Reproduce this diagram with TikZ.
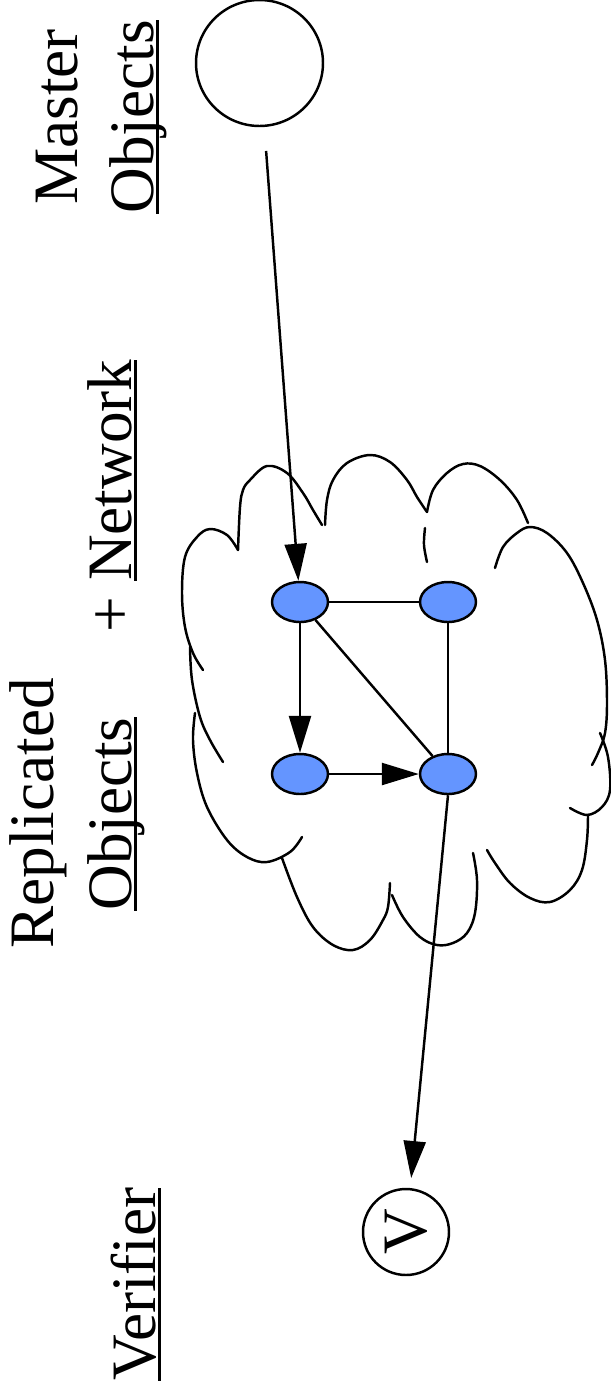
\documentclass[tikz,border=0pt]{standalone}
\usepackage{fontspec}
\setmainfont{Liberation Serif}
\usepackage{tikz}
\usetikzlibrary{arrows.meta,shapes.geometric}
\definecolor{objBlue}{HTML}{6495FF}
\definecolor{inkP}{HTML}{000000}
% underline that sits just under the baseline
\newsavebox{\ulbox}
\newcommand{\ulword}[1]{\sbox{\ulbox}{#1}\rlap{\rule[-3.2pt]{\wd\ulbox}{1.3pt}}\usebox{\ulbox}}
\tikzset{
  bigtext/.style={font=\fontsize{36}{43}\selectfont, inner sep=0pt, rotate=90},
  objnode/.style={ellipse, draw=inkP, fill=objBlue, line width=1.4pt,
                  minimum width=1.12cm, minimum height=0.8cm, inner sep=0pt},
  masternode/.style={ellipse, draw=inkP, line width=1.4pt,
                     minimum width=2.54cm, minimum height=2.52cm, inner sep=0pt},
  vernode/.style={circle, draw=inkP, line width=1.4pt, minimum size=1.72cm,
                  inner sep=0pt, rotate=90, font=\fontsize{36}{36}\selectfont},
  flow/.style={-{Triangle[length=0.74cm, width=0.44cm]}, line width=1.4pt, color=inkP},
  link/.style={line width=1.4pt, color=inkP},
  cloudarc/.style={line width=1.4pt, line cap=round, color=inkP},
}

\begin{document}
\begin{tikzpicture}[x=0.02cm, y=-0.02cm]
  \useasboundingbox (0,0) rectangle (611,1394);
  % labels
  \node[bigtext, anchor=base] (mastlbl) at (77,117) {Master};
  \node[bigtext, anchor=base] (mastobj) at (153,117) {\ulword{Objects}};
  \node[bigtext, anchor=base west] (repllbl) at (53,949) {Replicated};
  \node[bigtext, anchor=base west] (replobj) at (131,911)
    {\ulword{Objects}\hspace{1.7cm}+ \ulword{Network}};
  \node[bigtext, anchor=base west] (verlbl) at (155,1381) {\ulword{Verifier}};
  % network cloud, one bump at a time
  \draw[cloudarc] plot[smooth, tension=0.6] coordinates
    {(238,550) (240,507) (243,490) (250,480) (267,466) (287,473) (303,493) (313,510) (322,525)};
  \draw[cloudarc] plot[smooth, tension=0.6] coordinates
    {(325,525) (327,500) (333,480) (347,463) (370,455) (390,462) (407,480) (417,497) (427,512)};
  \draw[cloudarc] plot[smooth, tension=0.6] coordinates
    {(427,512) (433,490) (447,473) (463,464) (480,466) (500,480) (517,500) (528,523)};
  \draw[cloudarc] plot[smooth, tension=0.6] coordinates
    {(425,528) (424,545) (427,562)};
  \draw[cloudarc] plot[smooth, tension=0.6] coordinates
    {(495,568) (503,547) (517,533) (530,527) (547,533) (567,553) (583,583) (597,620)
     (605,660) (607,703) (605,733) (598,753) (592,765)};
  \draw[cloudarc] plot[smooth, tension=0.6] coordinates
    {(600,733) (608,757) (610,790) (602,807) (587,815) (570,808)};
  \draw[cloudarc] plot[smooth, tension=0.6] coordinates
    {(588,815) (587,840) (582,870) (570,890) (550,902) (530,898) (510,883) (495,863) (487,850)};
  \draw[cloudarc] plot[smooth, tension=0.6] coordinates
    {(473,853) (477,880) (475,913) (467,933) (453,943) (437,945) (420,937) (403,917) (392,895)};
  \draw[cloudarc] plot[smooth, tension=0.6] coordinates
    {(390,883) (388,907) (383,920) (370,940) (353,950) (333,945) (313,927) (297,897) (282,858)};
  \draw[cloudarc] plot[smooth, tension=0.6] coordinates
    {(302,837) (290,852) (267,862) (247,857) (227,840) (207,807) (197,773) (193,740) (195,713)};
  \draw[cloudarc] plot[smooth, tension=0.6] coordinates
    {(190,647) (192,680) (200,717) (210,740) (223,762)};
  \draw[cloudarc] plot[smooth, tension=0.6] coordinates
    {(203,670) (193,653) (185,627) (182,593) (185,557) (197,537) (210,529) (227,535) (238,550)};
  % objects
  \node[masternode] (master) at (259.5,63) {};
  \node[objnode] (tl) at (300,602) {};
  \node[objnode] (tr) at (448,602) {};
  \node[objnode] (bl) at (300,774) {};
  \node[objnode] (br) at (448,774) {};
  \node[vernode] (ver) at (406,1232) {V};
  % edges
  \draw[flow, shorten <=0.48cm] (master) -- (tl);
  \draw[flow] (tl) -- (bl);
  \draw[flow] (bl) -- (br);
  \draw[link] (tl) -- (tr);
  \draw[link] (tr) -- (br);
  \draw[link] (tl) -- (br);
  \draw[flow, shorten >=0.2cm] (br.south) -- (ver);
\end{tikzpicture}
\end{document}
